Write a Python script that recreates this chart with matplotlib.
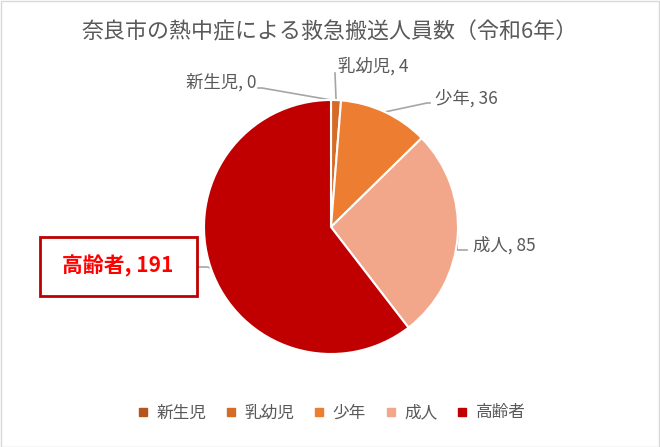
import matplotlib
matplotlib.use("Agg")
import matplotlib.pyplot as plt
from matplotlib.lines import Line2D
from matplotlib.patches import Rectangle
import numpy as np

plt.rcParams['font.family'] = ['Noto Sans CJK JP', 'DejaVu Sans']

title = "奈良市の熱中症による救急搬送人員数（令和6年）"
categories = ["新生児", "乳幼児", "少年", "成人", "高齢者"]
counts = [0, 4, 36, 85, 191]
colors = ["#B5541C", "#D56B27", "#ED7D31", "#F2A78B", "#C00000"]

TXT = "#595959"
W, H = 660, 447
CX, CY, R = 331, 227, 127  # pie centre / radius in pixels (from top)


def px(x, y):
    # pixel position (from top-left) -> pie data units
    return (x - CX) / R, (CY - y) / R


fig = plt.figure(figsize=(6.6, 4.47), dpi=100)
fig.patches.append(Rectangle((0.5 / W, 0.5 / H), 1 - 1.5 / W, 1 - 1.5 / H,
                             transform=fig.transFigure, fill=False,
                             edgecolor="#D9D9D9", linewidth=1))

S = 2.8  # half-extent of the axes in pie radii
ax = fig.add_axes([(CX - S * R) / W, (H - CY - S * R) / H, 2 * S * R / W, 2 * S * R / H])

wedges, _ = ax.pie(counts, colors=colors, startangle=90, counterclock=False,
                   radius=1, wedgeprops=dict(edgecolor="white", linewidth=1.5))
ax.set_xlim(-S, S)
ax.set_ylim(-S, S)
ax.axis("off")

fig.text(0.5, 1 - 32 / H, title, ha="center", va="center",
         fontsize=15.8, color=TXT)

# label text anchor, alignment, and leader-line knee / end points (pixels)
label_layout = [
    ((256, 82), "right", [(262, 88), (258, 88)]),
    ((338, 66), "left", [(335, 73), (335, 73)]),
    ((435, 98), "left", [(427, 103), (430, 103)]),
    ((473, 245), "left", [(457, 250), (467, 250)]),
    ((118, 266), "center", [(207, 267), (197, 267)]),
]

for w, n, cat, (txy, ha, pts) in zip(wedges, counts, categories, label_layout):
    mid = np.deg2rad((w.theta1 + w.theta2) / 2)
    start = (np.cos(mid), np.sin(mid))
    line = [start] + [px(*p) for p in pts]
    xs, ys = zip(*line)
    ax.plot(xs, ys, color="#A6A6A6", linewidth=1.2, clip_on=False, zorder=0)
    tx, ty = px(*txy)
    if cat == "高齢者":
        bx0, by0 = px(40, 296)
        bx1, by1 = px(197, 237)
        ax.add_patch(Rectangle((bx0, by0), bx1 - bx0, by1 - by0, facecolor="white",
                               edgecolor="#C00000", linewidth=2, clip_on=False))
        ax.text(tx, ty, f"{cat}, {n}", ha="center", va="center", fontsize=15,
                color="#FF0000", fontweight="bold")
    else:
        ax.text(tx, ty, f"{cat}, {n}", ha=ha, va="center", fontsize=12.5, color=TXT)

handles = [Line2D([], [], marker="s", linestyle="none", markersize=6,
                  markerfacecolor=c, markeredgecolor=c) for c in colors]
fig.legend(handles, categories, loc="center", bbox_to_anchor=(0.5, 34 / H),
           ncol=5, frameon=False, fontsize=12, labelcolor=TXT,
           handletextpad=0.3, columnspacing=1.0, handlelength=1.0)

fig.savefig("out.png", dpi=100)
